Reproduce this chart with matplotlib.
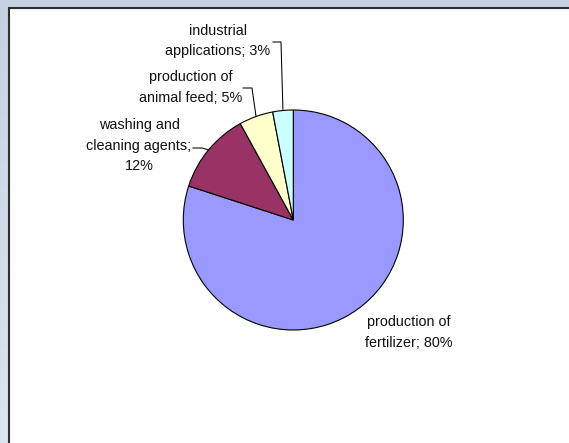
import numpy as np
import matplotlib.pyplot as plt
from matplotlib.patches import Rectangle
from matplotlib.colors import LinearSegmentedColormap

# data
labels = ['production of\nfertilizer; 80%', 'washing and\ncleaning agents;\n12%',
          'production of\nanimal feed; 5%', 'industrial\napplications; 3%']
shares = [80, 12, 5, 3]
colors = ['#9999FF', '#993366', '#FFFFCC', '#CCFFFF']

# layout (pixel coords, y measured from top)
W, H = 569, 443
center = (293.3, 220)
radius = 110
# label centre and leader elbow points for each slice (None = no leader)
label_pos = [(409, 332.5), (139, 145.5), (191, 87.5), (218, 41)]
leader_pts = [None, [(202, 148), (193, 148)], [(252, 88), (243, 88)], [(281, 42), (273, 42)]]

plt.rcParams['font.family'] = ['Liberation Sans', 'DejaVu Sans']

fig = plt.figure(figsize=(W / 100, H / 100), dpi=100)
ax = fig.add_axes([0, 0, 1, 1])

# background gradient + white chart area
cmap = LinearSegmentedColormap.from_list('bg', ['#C4D2E2', '#DCE5EF'])
grad = np.linspace(0, 1, 256).reshape(-1, 1)
ax.imshow(grad, cmap=cmap, aspect='auto', extent=(0, W, 0, H), origin='upper', zorder=0)
ax.add_patch(Rectangle((9.5, -20), W + 20, H - 7.5 + 20, facecolor='white',
                       edgecolor='#2E2E2E', linewidth=1.5, zorder=1))

wedges, _ = ax.pie(shares, colors=colors, startangle=90, counterclock=False,
                   center=(center[0], H - center[1]), radius=radius,
                   wedgeprops=dict(edgecolor='black', linewidth=0.8, zorder=2))

for w, lab, (lx, ly), pts in zip(wedges, labels, label_pos, leader_pts):
    ax.text(lx, H - ly, lab, ha='center', va='center', fontsize=10.4,
            linespacing=1.6, color='#111111', zorder=4)
    if pts is not None:
        mid = np.deg2rad((w.theta1 + w.theta2) / 2)
        ex = center[0] + radius * np.cos(mid)
        ey = H - center[1] + radius * np.sin(mid)
        xs = [ex] + [p[0] for p in pts]
        ys = [ey] + [H - p[1] for p in pts]
        ax.plot(xs, ys, color='black', linewidth=0.75, zorder=3)

ax.set_xlim(0, W)
ax.set_ylim(0, H)
ax.set_aspect('auto')
ax.axis('off')

fig.savefig('out.png', dpi=100)
